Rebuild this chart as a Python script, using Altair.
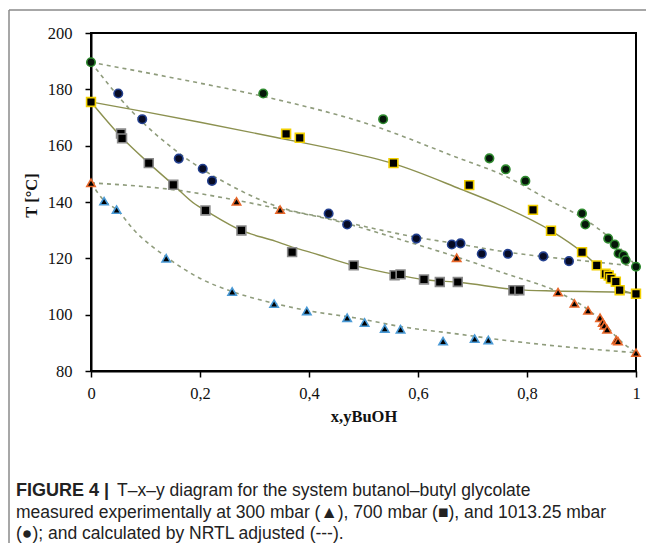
import altair as alt
import pandas as pd

# ---------------- experimental data ----------------
# 300 mbar, liquid (blue-edged triangles)
p300_liq_x = [0.024, 0.047, 0.138, 0.259, 0.336, 0.396, 0.470, 0.502, 0.539, 0.568, 0.646, 0.704, 0.729]
p300_liq_T = [140.3, 137.3, 120.0, 108.2, 103.9, 101.3, 98.9, 97.2, 95.1, 94.8, 90.6, 91.5, 91.0]
# 300 mbar, vapour (orange-edged triangles)
p300_vap_x = [0.0, 0.267, 0.347, 0.671, 0.857, 0.887, 0.912, 0.934, 0.939, 0.942, 0.947, 0.964, 0.967, 1.0]
p300_vap_T = [146.8, 140.2, 137.3, 120.2, 108.0, 104.0, 101.5, 98.9, 97.2, 96.2, 94.8, 91.0, 90.6, 86.5]
# 700 mbar, liquid (grey-edged squares)
p700_liq_x = [0.055, 0.057, 0.106, 0.151, 0.210, 0.276, 0.369, 0.482, 0.557, 0.568, 0.611, 0.640, 0.673, 0.775, 0.786]
p700_liq_T = [164.3, 162.6, 153.8, 146.1, 137.0, 129.9, 122.2, 117.5, 114.0, 114.3, 112.5, 111.6, 111.6, 108.7, 108.7]
# 700 mbar, vapour (yellow-edged squares)
p700_vap_x = [0.0, 0.358, 0.383, 0.555, 0.694, 0.811, 0.844, 0.901, 0.928, 0.944, 0.950, 0.954, 0.963, 0.970, 1.0]
p700_vap_T = [175.5, 164.2, 162.8, 153.8, 146.0, 137.2, 129.8, 122.2, 117.5, 114.5, 113.9, 112.8, 111.7, 108.7, 107.4]
# 1013.25 mbar, liquid (blue-edged circles)
p1013_liq_x = [0.050, 0.094, 0.161, 0.205, 0.222, 0.436, 0.470, 0.597, 0.662, 0.678, 0.717, 0.765, 0.830, 0.877]
p1013_liq_T = [178.5, 169.4, 155.4, 151.8, 147.5, 135.9, 132.0, 127.0, 124.9, 125.3, 121.6, 121.6, 120.7, 119.0]
# 1013.25 mbar, vapour (green-edged circles)
p1013_vap_x = [0.0, 0.316, 0.536, 0.731, 0.761, 0.797, 0.901, 0.907, 0.949, 0.961, 0.968, 0.977, 0.981, 1.0]
p1013_vap_T = [189.6, 178.5, 169.4, 155.5, 151.6, 147.5, 135.9, 132.0, 127.0, 124.9, 121.7, 121.0, 119.4, 117.0]

# ---------------- NRTL curves ----------------
n300_bub_x = [0.0, 0.024, 0.047, 0.081, 0.138, 0.204, 0.259, 0.339, 0.396, 0.483, 0.574, 0.678, 0.731, 0.853, 1.0]
n300_bub_T = [146.8, 140.5, 137.3, 129.6, 120.5, 112.5, 108.2, 103.9, 101.5, 98.9, 95.6, 93.0, 91.6, 88.9, 86.5]
n300_dew_x = [0.0, 0.173, 0.267, 0.347, 0.452, 0.574, 0.671, 0.760, 0.857, 0.912, 0.939, 0.967, 1.0]
n300_dew_T = [146.8, 143.8, 140.6, 137.5, 133.2, 126.3, 120.5, 114.6, 108.0, 101.8, 97.4, 91.5, 86.5]
n700_bub_x = [0.0, 0.057, 0.106, 0.151, 0.192, 0.210, 0.276, 0.338, 0.369, 0.400, 0.482, 0.560, 0.610, 0.678, 0.780, 0.853, 0.969, 1.0]
n700_bub_T = [175.5, 162.8, 153.8, 146.1, 139.1, 137.0, 129.9, 126.1, 124.0, 122.3, 117.5, 114.2, 112.5, 111.4, 108.9, 108.4, 108.0, 107.4]
n700_dew_x = [0.0, 0.100, 0.200, 0.338, 0.450, 0.555, 0.678, 0.749, 0.844, 0.901, 0.928, 0.970, 1.0]
n700_dew_T = [175.5, 172.0, 168.3, 163.0, 158.6, 153.6, 144.6, 139.0, 129.8, 122.2, 117.5, 109.2, 107.4]
n1013_bub_x = [0.0, 0.069, 0.173, 0.253, 0.333, 0.450, 0.597, 0.680, 0.750, 0.830, 0.900, 1.0]
n1013_bub_T = [189.6, 173.4, 155.7, 146.2, 139.0, 133.6, 127.5, 124.9, 122.6, 120.6, 119.2, 117.2]
n1013_dew_x = [0.0, 0.155, 0.316, 0.513, 0.669, 0.761, 0.847, 0.902, 0.951, 0.976, 1.0]
n1013_dew_T = [189.6, 183.9, 177.5, 167.4, 156.0, 149.1, 140.0, 134.4, 127.3, 122.6, 117.2]

x_ticks = [0, 0.2, 0.4, 0.6, 0.8, 1]
y_ticks = [80, 100, 120, 140, 160, 180, 200]

caption_bold = "FIGURE 4 |"
caption_1 = "T\u2013x\u2013y diagram for the system butanol\u2013butyl glycolate"
caption_2 = "measured experimentally at 300 mbar (\u25b2), 700 mbar (\u25a0), and 1013.25 mbar"
caption_3 = "(\u25cf); and calculated by NRTL adjusted (---)."

# ---------------- chart ----------------
X = alt.X("x:Q", scale=alt.Scale(domain=[0, 1], nice=False),
          axis=alt.Axis(values=x_ticks, title="x,yBuOH", labelFlush=False,
                        labelExpr="replace(format(datum.value, '.1~f'), '.', ',')"))
Y = alt.Y("T:Q", scale=alt.Scale(domain=[80, 200], nice=False, zero=False),
          axis=alt.Axis(values=y_ticks, title="T [\u00b0C]", labelFlush=False, titleY=162))


def curve_df(name, xs, ts):
    return pd.DataFrame({"x": xs, "T": ts, "curve": name})


dashed = pd.concat([
    curve_df("300 bub", n300_bub_x, n300_bub_T),
    curve_df("300 dew", n300_dew_x, n300_dew_T),
    curve_df("1013 bub", n1013_bub_x, n1013_bub_T),
    curve_df("1013 dew", n1013_dew_x, n1013_dew_T),
])
solid = pd.concat([
    curve_df("700 bub", n700_bub_x, n700_bub_T),
    curve_df("700 dew", n700_dew_x, n700_dew_T),
])

dashed_layer = alt.Chart(dashed).mark_line(
    color="#8f9c7c", strokeWidth=1.6, strokeDash=[4, 4], interpolate="monotone"
).encode(x=X, y=Y, detail="curve:N")
solid_layer = alt.Chart(solid).mark_line(
    color="#8c9150", strokeWidth=1.4, interpolate="monotone"
).encode(x=X, y=Y, detail="curve:N")


def pts(xs, ts, shape, stroke, fill="#000000", size=60):
    df = pd.DataFrame({"x": xs, "T": ts})
    return alt.Chart(df).mark_point(
        shape=shape, filled=True, fill=fill, stroke=stroke, strokeWidth=1.6,
        size=size, opacity=1, fillOpacity=1
    ).encode(x=X, y=Y)


points = [
    pts(p300_liq_x, p300_liq_T, "triangle-up", "#4a9ad6", size=70),
    pts(p300_vap_x, p300_vap_T, "triangle-up", "#e8672a", size=70),
    pts(p700_liq_x, p700_liq_T, "square", "#8a8a8a", size=78),
    pts(p700_vap_x, p700_vap_T, "square", "#f2d000", size=78),
    pts(p1013_liq_x, p1013_liq_T, "circle", "#23408f", fill="#070b24", size=72),
    pts(p1013_vap_x, p1013_vap_T, "circle", "#2f8a2f", fill="#06170a", size=72),
]

one = pd.DataFrame({"a": [0]})
frame_top = alt.Chart(one).mark_rule(color="#8a8a8a", strokeWidth=1.5).encode(
    x=alt.value(-82), x2=alt.value(570), y=alt.value(-23))
frame_left = alt.Chart(one).mark_rule(color="#8a8a8a", strokeWidth=1.5).encode(
    x=alt.value(-82), y=alt.value(-23), y2=alt.value(510))

cap_font = "Liberation Sans"
cap_size = 17.5
cap_b = alt.Chart(one).mark_text(align="left", baseline="middle", font=cap_font,
                                 fontSize=18, fontWeight="bold", color="#222").encode(
    x=alt.value(-75), y=alt.value(458), text=alt.value(caption_bold))
cap_1 = alt.Chart(one).mark_text(align="left", baseline="middle", font=cap_font,
                                 fontSize=cap_size, color="#222").encode(
    x=alt.value(26), y=alt.value(458), text=alt.value(caption_1))
cap_2 = alt.Chart(one).mark_text(align="left", baseline="middle", font=cap_font,
                                 fontSize=cap_size, color="#222").encode(
    x=alt.value(-75), y=alt.value(480), text=alt.value(caption_2))
cap_3 = alt.Chart(one).mark_text(align="left", baseline="middle", font=cap_font,
                                 fontSize=cap_size, color="#222").encode(
    x=alt.value(-75), y=alt.value(501), text=alt.value(caption_3))

chart = alt.layer(
    dashed_layer, solid_layer, *points,
    frame_top, frame_left, cap_b, cap_1, cap_2, cap_3
).properties(
    width=545, height=338,
    autosize="none",
    padding={"left": 83, "top": 25, "right": 10, "bottom": 172},
).configure_view(
    stroke="black", strokeWidth=2
).configure_axis(
    grid=False, domainColor="black", domainWidth=2, tickColor="black", tickWidth=1.5,
    tickSize=6, labelFont="Liberation Serif", labelFontSize=16.5, labelColor="#111",
    titleFont="Liberation Serif", titleFontSize=16.5, titleFontWeight="bold", titleColor="#111"
).configure_axisX(
    labelPadding=8, titlePadding=7
).configure_axisY(
    labelPadding=13, titlePadding=8
)

chart.save("out.html", embed_options={"renderer": "svg", "actions": False})
